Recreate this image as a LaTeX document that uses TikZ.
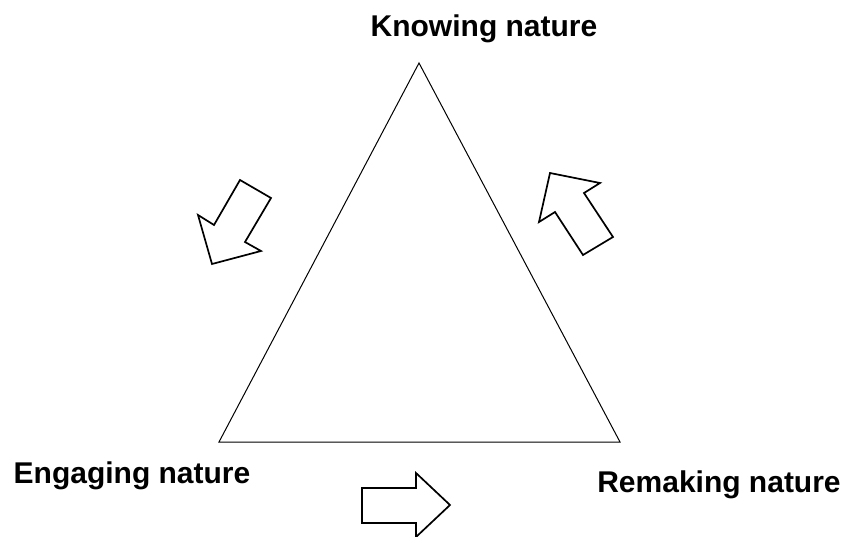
\documentclass[tikz,border=0pt]{standalone}
\usepackage{fontspec}
\setmainfont{Liberation Sans}
\begin{document}
\begin{tikzpicture}[x=1pt,y=-1pt]
	\tikzstyle{corner}=[font=\fontsize{30}{30}\selectfont\bfseries,anchor=base,inner sep=0pt]
	\tikzstyle{side}=[draw=black,line width=1pt,line join=miter]
	\tikzstyle{blockarrow}=[draw=black,line width=1.7pt,fill=white,line join=miter]
	\useasboundingbox (0,0) rectangle (845,537);
	\begin{scope}
		\coordinate (top) at (419,63);
		\coordinate (left) at (219,442);
		\coordinate (right) at (620,442);
		\node [corner] (know) at (484,37) {Knowing nature};
		\node [corner] (engage) at (132,483) {Engaging nature};
		\node [corner] (remake) at (719,492) {Remaking nature};
		\path[side] (top) -- (left) -- (right) -- cycle;
		% block arrows
		\path[blockarrow] (240,180) -- (271,198) -- (245,242) -- (261,251) -- (212,264) -- (198,215) -- (214,225) -- cycle;
		\path[blockarrow] (550,173) -- (600,183) -- (584,193) -- (613,237) -- (583,255) -- (555,212) -- (539,222) -- cycle;
		\path[blockarrow] (362,488) -- (416,488) -- (416,473) -- (450,505) -- (416,537) -- (416,523) -- (362,523) -- cycle;
	\end{scope}
\end{tikzpicture}
\end{document}
